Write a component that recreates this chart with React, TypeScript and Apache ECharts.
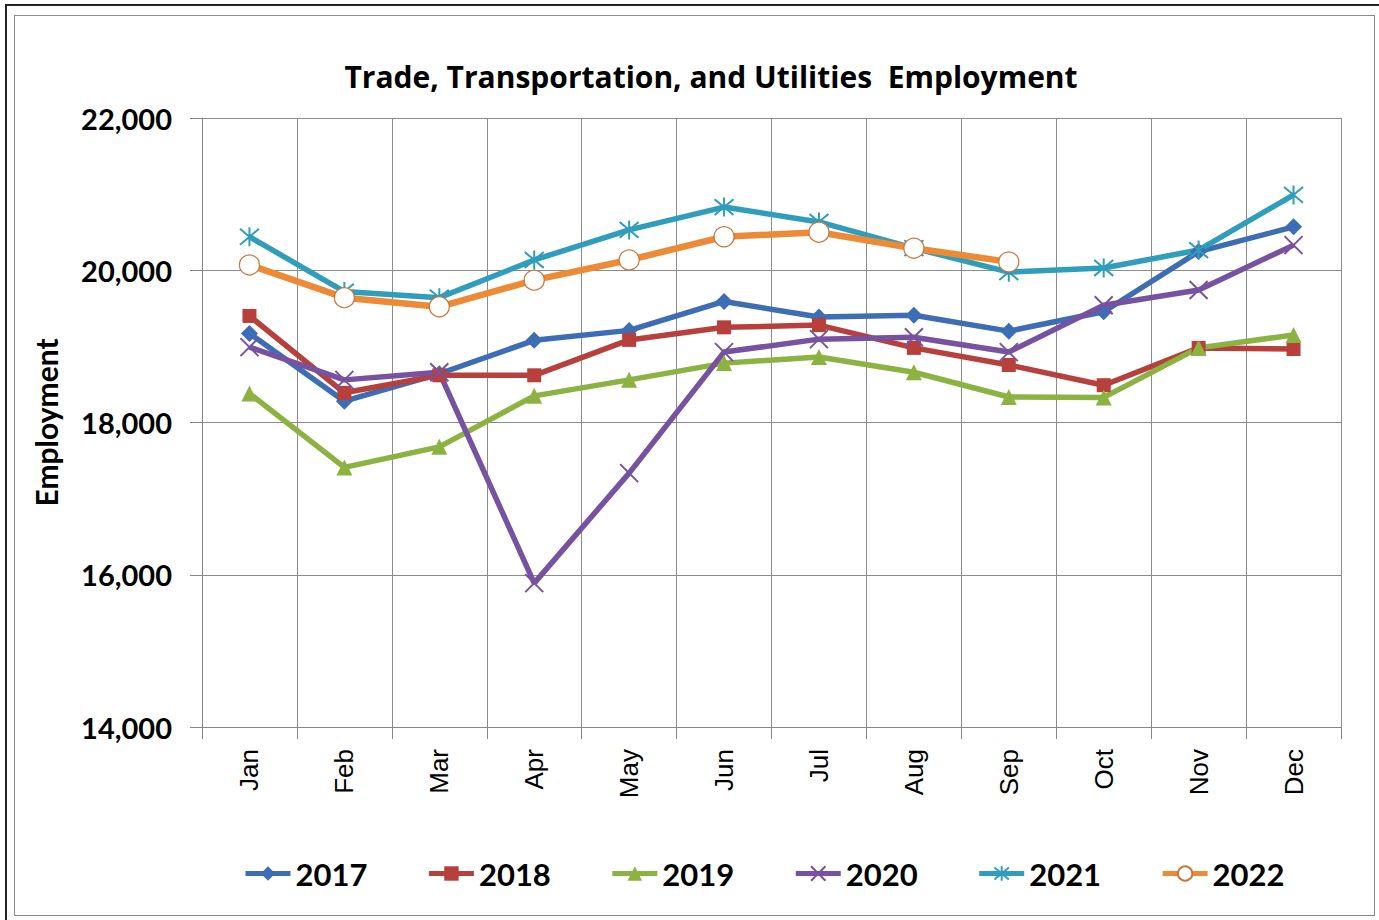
import React, { useEffect, useRef } from "react";
import * as echarts from "echarts";

const months = ["Jan", "Feb", "Mar", "Apr", "May", "Jun", "Jul", "Aug", "Sep", "Oct", "Nov", "Dec"];

const emp2017 = [19170, 18280, 18640, 19080, 19210, 19590, 19385, 19410, 19200, 19455, 20245, 20570];
const emp2018 = [19400, 18390, 18620, 18620, 19085, 19250, 19280, 18980, 18755, 18490, 18980, 18965];
const emp2019 = [18380, 17410, 17680, 18350, 18560, 18780, 18860, 18660, 18335, 18330, 18980, 19150];
const emp2020 = [18990, 18560, 18660, 15890, 17335, 18925, 19095, 19120, 18925, 19540, 19740, 20330];
const emp2021 = [20440, 19720, 19640, 20135, 20530, 20830, 20635, 20290, 19975, 20030, 20265, 20990];
const emp2022 = [20070, 19640, 19520, 19870, 20135, 20440, 20500, 20290, 20110, null, null, null];

const yTicks = { min: 14000, max: 22000, interval: 2000 };

const X_MARK = "path://M0,0 L10,10 M10,0 L0,10";
const STAR_MARK = "path://M0,0 L10,10 M10,0 L0,10 M5,-1 L5,11";

const FONT = "Lato, 'Open Sans', sans-serif";

export default function App() {
  const ref = useRef<HTMLDivElement>(null);

  useEffect(() => {
    if (!ref.current) return;
    const chart = echarts.init(ref.current, undefined, { renderer: "svg" });

    const mk = (
      name: string,
      data: (number | null)[],
      color: string,
      symbol: string,
      symbolSize: number,
      extra: any = {}
    ) => ({
      name,
      type: "line",
      data,
      symbol,
      symbolSize,
      showAllSymbol: true,
      connectNulls: false,
      lineStyle: { color, width: 5.5 },
      itemStyle: { color, borderColor: color, borderWidth: 0, ...extra },
      emphasis: { disabled: true },
    });

    chart.setOption({
      animation: false,
      backgroundColor: "#ffffff",
      title: {
        text: "Trade, Transportation, and Utilities  Employment",
        left: 706,
        textAlign: "center",
        top: 56,
        textStyle: { fontFamily: "'Open Sans', sans-serif", fontWeight: "bold", fontSize: 30, color: "#000" },
      },
      legend: {
        bottom: 26,
        left: 238,
        itemWidth: 45,
        itemHeight: 18,
        itemGap: 59,
        lineStyle: { width: 5 },
        textStyle: { fontFamily: FONT, fontWeight: "bold", fontSize: 31, color: "#000" },
        data: ["2017", "2018", "2019", "2020", "2021", "2022"],
      },
      grid: { left: 202, right: 38, top: 118, bottom: 193, containLabel: false },
      xAxis: {
        type: "category",
        data: months,
        boundaryGap: true,
        axisLine: { lineStyle: { color: "#868686", width: 1 } },
        axisTick: { show: true, length: 12, lineStyle: { color: "#868686" } },
        splitLine: { show: true, lineStyle: { color: "#8c8c8c", width: 1 } },
        axisLabel: {
          rotate: 90,
          margin: 22,
          fontFamily: "'Liberation Sans', Arial, sans-serif",
          fontSize: 26,
          color: "#000",
        },
      },
      yAxis: {
        type: "value",
        min: yTicks.min,
        max: yTicks.max,
        interval: yTicks.interval,
        name: "Employment",
        nameLocation: "middle",
        nameGap: 141,
        nameRotate: 90,
        nameTextStyle: { fontFamily: FONT, fontWeight: "bold", fontSize: 30, color: "#000" },
        axisLine: { show: true, lineStyle: { color: "#868686", width: 1 } },
        axisTick: { show: true, length: 12, lineStyle: { color: "#868686" } },
        splitLine: { show: true, lineStyle: { color: "#8c8c8c", width: 1 } },
        axisLabel: {
          margin: 30,
          fontFamily: FONT,
          fontWeight: "bold",
          fontSize: 29,
          color: "#000",
          formatter: (v: number) => v.toLocaleString("en-US"),
        },
      },
      series: [
        mk("2017", emp2017, "#3D6DB5", "diamond", 17),
        mk("2018", emp2018, "#B8403C", "rect", 14),
        mk("2019", emp2019, "#8CB341", "triangle", 16),
        mk("2020", emp2020, "#7652A0", X_MARK, 18, { borderWidth: 2 }),
        mk("2021", emp2021, "#2F9DBB", STAR_MARK, 19, { borderWidth: 2 }),
        {
          name: "2022",
          type: "line",
          data: emp2022,
          symbol: "circle",
          symbolSize: 20,
          showAllSymbol: true,
          lineStyle: { color: "#EC8A35", width: 6.5 },
          itemStyle: { color: "#ffffff", borderColor: "#C9743A", borderWidth: 1.2 },
          emphasis: { disabled: true },
        },
      ],
    });

    return () => chart.dispose();
  }, []);

  return (
    <div style={{ position: "fixed", left: 0, top: 0, width: 1379, height: 920, background: "#fff" }}>
      <div ref={ref} style={{ position: "absolute", left: 0, top: 0, width: 1379, height: 920 }} />
      {/* frame: dark outer edge on top and left, grey inner rectangle */}
      <div
        style={{
          position: "absolute",
          left: 5,
          top: 4,
          width: 1379,
          height: 920,
          borderTop: "2px solid #222",
          borderLeft: "2px solid #222",
          pointerEvents: "none",
        }}
      />
      <div
        style={{
          position: "absolute",
          left: 14,
          top: 15,
          width: 1361,
          height: 901,
          border: "1px solid #8a8a8a",
          boxSizing: "border-box",
          pointerEvents: "none",
        }}
      />
    </div>
  );
}
